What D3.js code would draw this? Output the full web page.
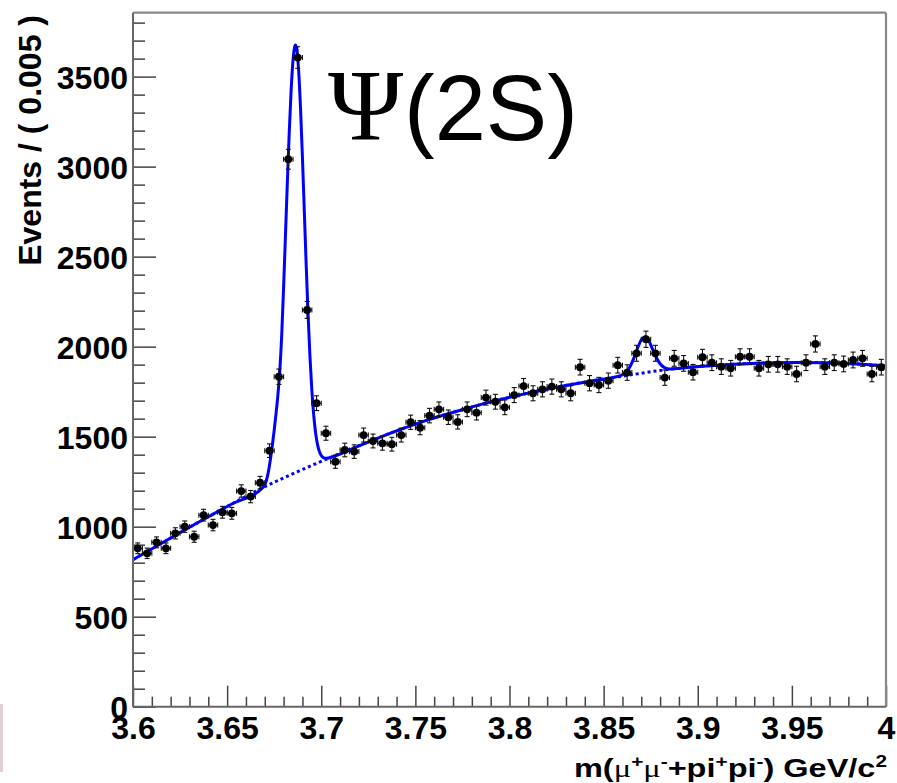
<!DOCTYPE html>
<html>
<head>
<meta charset="utf-8">
<script src="https://cdn.jsdelivr.net/npm/d3@7"></script>
<style>
  html, body { margin: 0; padding: 0; background: #fff; }
  svg { display: block; }
</style>
</head>
<body>
<svg id="chart" width="897" height="783"></svg>
<script>
// Binning of the dimuon + dipion invariant mass histogram
const massMin = 3.6;
const massMax = 4.0;
const binWidth = 0.005;

// Events per bin (80 bins of 5 MeV)
const events = [
  880, 852, 913, 880, 963, 1000, 944, 1064, 1009, 1080,
  1074, 1198, 1167, 1244, 1422, 1833, 3041, 3606, 2204, 1686,
  1519, 1361, 1426, 1417, 1509, 1476, 1463, 1458, 1509, 1580,
  1550, 1617, 1652, 1608, 1582, 1652, 1633, 1717, 1694, 1663,
  1731, 1781, 1741, 1763, 1778, 1763, 1741, 1886, 1797, 1787,
  1811, 1897, 1856, 1963, 2041, 1963, 1828, 1935, 1907, 1858,
  1941, 1911, 1889, 1880, 1944, 1944, 1880, 1902, 1902, 1889,
  1848, 1911, 2015, 1889, 1911, 1904, 1926, 1935, 1848, 1886
];

// Background component of the fit (dotted)
const bgMass = [3.600, 3.6175, 3.635, 3.6525, 3.670, 3.6875, 3.705, 3.7225, 3.740, 3.7575,
                3.775, 3.7925, 3.810, 3.8275, 3.845, 3.8625, 3.880, 3.8975, 3.915, 3.9325,
                3.950, 3.9675, 3.985, 4.000];
const bgFit  = [817, 922, 1026, 1126, 1222, 1306, 1385, 1460, 1532, 1596,
                1650, 1700, 1742, 1780, 1812, 1840, 1868, 1887, 1900, 1908,
                1912, 1911, 1903, 1892];

// Total fit: background + psi(2S) + X(3872) signals (solid)
const fitMass = [3.600, 3.6175, 3.635, 3.6525,
  3.669, 3.670, 3.671, 3.672, 3.673, 3.674, 3.675, 3.676, 3.677, 3.678, 3.679,
  3.680, 3.681, 3.682, 3.683, 3.684, 3.685, 3.686, 3.6863,
  3.687, 3.688, 3.689, 3.690, 3.691, 3.692, 3.693, 3.694, 3.695, 3.696,
  3.697, 3.698, 3.699, 3.700, 3.701, 3.702, 3.703, 3.705,
  3.7225, 3.740, 3.7575, 3.775, 3.7925, 3.810, 3.8275, 3.845,
  3.860, 3.862, 3.864, 3.866, 3.868, 3.870, 3.872, 3.874, 3.876, 3.878,
  3.880, 3.882, 3.884, 3.886,
  3.8975, 3.915, 3.9325, 3.950, 3.9675, 3.985, 4.000];
const fitTotal = [817, 922, 1026, 1126,
  1218, 1232, 1262, 1310, 1375, 1450, 1535, 1630, 1735, 1870, 2065,
  2330, 2620, 2915, 3190, 3425, 3590, 3670, 3676,
  3652, 3531, 3323, 3053, 2754, 2454, 2180, 1946, 1759, 1620,
  1521, 1457, 1417, 1395, 1384, 1380, 1380, 1385,
  1460, 1532, 1596, 1650, 1700, 1742, 1780, 1812,
  1843, 1859, 1888, 1935, 1991, 2037, 2054, 2033, 1986, 1940,
  1905, 1885, 1877, 1876,
  1887, 1900, 1908, 1912, 1911, 1903, 1892];

// Axis ticks
const xTickValues = [3.6, 3.65, 3.7, 3.75, 3.8, 3.85, 3.9, 3.95, 4.0];
const xTickLabels = ["3.6", "3.65", "3.7", "3.75", "3.8", "3.85", "3.9", "3.95", "4"];
const yTickValues = [0, 500, 1000, 1500, 2000, 2500, 3000, 3500];
const yTickLabels = ["0", "500", "1000", "1500", "2000", "2500", "3000", "3500"];
const yMax = 3855;

const W = 897, H = 783;
const frame = { left: 133, right: 886, top: 12.7, bottom: 706.7 };
const FONT = "'Liberation Sans', Arial, Helvetica, sans-serif";

const svg = d3.select("#chart");
svg.append("rect").attr("width", W).attr("height", H).attr("fill", "#fff");

const x = d3.scaleLinear().domain([massMin, massMax]).range([frame.left, frame.right]);
const y = d3.scaleLinear().domain([0, yMax]).range([frame.bottom, frame.top]);

// faint reddish strip at the lower left edge
svg.append("rect").attr("x", 0).attr("y", 704).attr("width", 3).attr("height", 68)
  .attr("fill", "#a0606e").attr("opacity", 0.3);

// ---- axes (ticks drawn inside the frame) ----
function styleAxis(g) {
  g.select(".domain").remove();
  g.selectAll(".tick line").attr("stroke", "#444").attr("stroke-width", 1.5);
  g.selectAll(".tick text")
    .attr("fill", "#000")
    .style("font-family", FONT)
    .style("font-weight", "bold")
    .style("font-size", "32px");
}

const yMinor = d3.range(100, 3900, 100).filter(v => v % 500 !== 0 && v < yMax);
svg.append("g").attr("transform", `translate(${frame.left},0)`)
  .call(d3.axisLeft(y).tickValues(yMinor).tickFormat("").tickSizeInner(-12).tickSizeOuter(0))
  .call(styleAxis);
svg.append("g").attr("transform", `translate(${frame.left},0)`)
  .call(d3.axisLeft(y).tickValues(yTickValues).tickFormat((d, i) => yTickLabels[i])
    .tickSizeInner(-23).tickSizeOuter(0).tickPadding(5))
  .call(styleAxis)
  .selectAll(".tick text").attr("dy", "0.36em");

const xMinor = d3.range(1, 40).map(k => massMin + k * 0.01).filter((v, k) => (k + 1) % 5 !== 0);
svg.append("g").attr("transform", `translate(0,${frame.bottom})`)
  .call(d3.axisBottom(x).tickValues(xMinor).tickFormat("").tickSizeInner(-10).tickSizeOuter(0))
  .call(styleAxis);
svg.append("g").attr("transform", `translate(0,${frame.bottom})`)
  .call(d3.axisBottom(x).tickValues(xTickValues).tickFormat((d, i) => xTickLabels[i])
    .tickSizeInner(-21).tickSizeOuter(0).tickPadding(10))
  .call(styleAxis);

// ---- fit curves ----
const line = d3.line().x(d => x(d[0])).y(d => y(d[1])).curve(d3.curveMonotoneX);

svg.append("path")
  .datum(d3.zip(bgMass, bgFit))
  .attr("d", line)
  .attr("fill", "none")
  .attr("stroke", "#0000ff")
  .attr("stroke-width", 3)
  .attr("stroke-dasharray", "3,3");

svg.append("path")
  .datum(d3.zip(fitMass, fitTotal))
  .attr("d", line)
  .attr("fill", "none")
  .attr("stroke", "#0000ff")
  .attr("stroke-width", 3)
  .attr("stroke-linejoin", "round");

// ---- data points with Poisson errors ----
const pts = events.map((v, i) => ({ m: massMin + (i + 0.5) * binWidth, v: v, e: Math.sqrt(v) }));
const cap = 2.5;
const pg = svg.append("g").attr("stroke", "#111").attr("stroke-width", 1.1);
const pt = pg.selectAll("g.pt").data(pts).join("g").attr("class", "pt");
pt.append("line")
  .attr("x1", d => x(d.m)).attr("x2", d => x(d.m))
  .attr("y1", d => y(d.v - d.e)).attr("y2", d => y(d.v + d.e));
pt.append("line")
  .attr("x1", d => x(d.m) - cap).attr("x2", d => x(d.m) + cap)
  .attr("y1", d => y(d.v + d.e)).attr("y2", d => y(d.v + d.e));
pt.append("line")
  .attr("x1", d => x(d.m) - cap).attr("x2", d => x(d.m) + cap)
  .attr("y1", d => y(d.v - d.e)).attr("y2", d => y(d.v - d.e));
pt.append("line")
  .attr("x1", d => x(d.m - binWidth / 2)).attr("x2", d => x(d.m + binWidth / 2))
  .attr("y1", d => y(d.v)).attr("y2", d => y(d.v));
pt.append("line")
  .attr("x1", d => x(d.m - binWidth / 2)).attr("x2", d => x(d.m - binWidth / 2))
  .attr("y1", d => y(d.v) - cap).attr("y2", d => y(d.v) + cap);
pt.append("line")
  .attr("x1", d => x(d.m + binWidth / 2)).attr("x2", d => x(d.m + binWidth / 2))
  .attr("y1", d => y(d.v) - cap).attr("y2", d => y(d.v) + cap);
pt.append("circle")
  .attr("cx", d => x(d.m)).attr("cy", d => y(d.v)).attr("r", 3.9)
  .attr("fill", "#000").attr("stroke", "none");

// ---- frame ----
svg.append("line").attr("x1", frame.left).attr("x2", frame.right).attr("y1", frame.top).attr("y2", frame.top)
  .attr("stroke", "#888").attr("stroke-width", 2.2);
svg.append("line").attr("x1", frame.right).attr("x2", frame.right).attr("y1", frame.top).attr("y2", frame.bottom)
  .attr("stroke", "#888").attr("stroke-width", 2.2);
svg.append("line").attr("x1", frame.left).attr("x2", frame.left).attr("y1", frame.top).attr("y2", frame.bottom)
  .attr("stroke", "#666").attr("stroke-width", 2);
svg.append("line").attr("x1", frame.left).attr("x2", frame.right).attr("y1", frame.bottom).attr("y2", frame.bottom)
  .attr("stroke", "#666").attr("stroke-width", 2);

// ---- axis titles ----
svg.append("text")
  .attr("transform", "translate(41,15) rotate(-90)")
  .attr("text-anchor", "end")
  .style("font-family", FONT).style("font-weight", "bold").style("font-size", "32px")
  .attr("fill", "#000")
  .text("Events / ( 0.005 )");

const xt = svg.append("g").attr("transform", "translate(887,777) scale(1.3,1)")
  .append("text")
  .attr("text-anchor", "end")
  .style("font-family", FONT).style("font-weight", "bold").style("font-size", "25px")
  .attr("fill", "#000");
const parts = [
  ["m(", 0], ["\u03BC", 0, "serif"], ["+", 1], ["\u03BC", 0, "serif"], ["-", 1],
  ["+pi", 0], ["+", 1], ["pi", 0], ["-", 1], [") GeV/c", 0], ["2", 1]
];
let raised = false;
parts.forEach(p => {
  const ts = xt.append("tspan").text(p[0]);
  if (p[1] === 1 && !raised) { ts.attr("dy", -10).style("font-size", "16px"); raised = true; }
  else if (p[1] === 1) { ts.style("font-size", "16px"); }
  else if (raised) { ts.attr("dy", 10); raised = false; }
  if (p[2] === "serif") ts.style("font-family", "'Liberation Serif', 'Times New Roman', serif").style("font-weight", "normal");
});

// ---- resonance label ----
svg.append("text")
  .attr("x", 328).attr("y", 140)
  .style("font-family", "'Liberation Serif', 'Times New Roman', serif")
  .style("font-size", "102px")
  .attr("fill", "#000")
  .text("\u03A8");
svg.append("text")
  .attr("x", 404).attr("y", 140)
  .style("font-family", FONT)
  .style("font-size", "92px")
  .attr("fill", "#000")
  .text("(2S)");
</script>
</body>
</html>
